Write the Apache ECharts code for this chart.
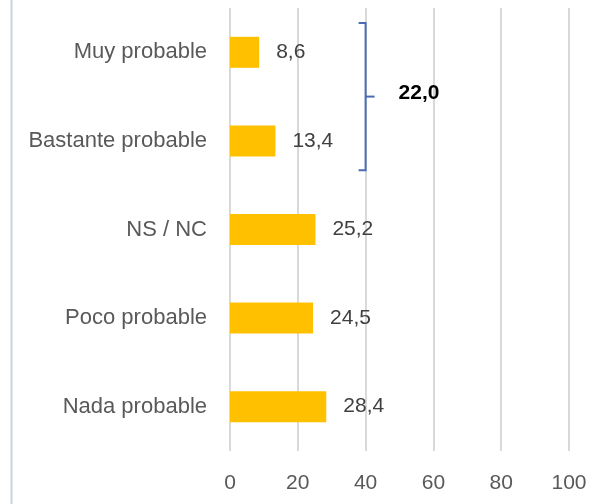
<!DOCTYPE html>
<html>
<head>
<meta charset="utf-8">
<script src="https://cdn.jsdelivr.net/npm/echarts@6/dist/echarts.min.js"></script>
<style>
  html, body { margin: 0; padding: 0; background: #fff; }
  #chart { width: 605px; height: 504px; }
</style>
</head>
<body>
<div id="chart"></div>
<script>
// Survey answers, top to bottom
const categories = ['Muy probable', 'Bastante probable', 'NS / NC', 'Poco probable', 'Nada probable'];
const values = [8.6, 13.4, 25.2, 24.5, 28.4];
const xTicks = [0, 20, 40, 60, 80, 100];
// Answers grouped by the bracket, and where the bracket sits on the value axis
const groupedCategories = ['Muy probable', 'Bastante probable'];
const bracketAt = 40;

const fmt = v => v.toFixed(1).replace('.', ',');
const groupTotal = groupedCategories
  .map(c => values[categories.indexOf(c)])
  .reduce((a, b) => a + b, 0);

const FONT = '"Liberation Sans", Arial, sans-serif';

const chart = echarts.init(document.getElementById('chart'));
chart.setOption({
  animation: false,
  backgroundColor: '#fff',
  grid: { left: 230, right: 36, top: 8, bottom: 53 },
  xAxis: {
    type: 'value',
    min: xTicks[0],
    max: xTicks[xTicks.length - 1],
    interval: xTicks[1] - xTicks[0],
    axisLine: { show: false },
    axisTick: { show: false },
    splitLine: { lineStyle: { color: '#D9D9D9', width: 2 } },
    axisLabel: { color: '#595959', fontFamily: FONT, fontSize: 21, margin: 22 }
  },
  yAxis: {
    type: 'category',
    data: categories,
    inverse: true,
    axisLine: { show: false },
    axisTick: { show: false },
    axisLabel: { color: '#595959', fontFamily: FONT, fontSize: 22, margin: 23 }
  },
  graphic: [{
    type: 'line',
    shape: { x1: 11.5, y1: 0, x2: 11.5, y2: 504 },
    style: { stroke: '#C8D1DE', lineWidth: 2 }
  }],
  series: [
    {
      type: 'bar',
      data: values,
      barWidth: 31,
      itemStyle: { color: '#FFC000' },
      label: {
        show: true,
        position: 'right',
        distance: 17,
        color: '#404040',
        fontFamily: FONT,
        fontSize: 21,
        formatter: p => fmt(p.value)
      }
    },
    {
      // Bracket joining the first two answers, with their combined share
      type: 'custom',
      data: [[bracketAt, groupedCategories[0], groupedCategories[1], groupTotal]],
      encode: { x: 0, y: 1 },
      renderItem: (params, api) => {
        const top = api.coord([api.value(0), groupedCategories[0]]);
        const bot = api.coord([api.value(0), groupedCategories[1]]);
        const band = api.size([0, 1])[1];
        const ext = band * 0.33;
        const x = top[0];
        const y1 = top[1] - ext;
        const y2 = bot[1] + ext;
        const ym = (y1 + y2) / 2;
        const stroke = { stroke: '#4A6BB5', lineWidth: 2, fill: null };
        return {
          type: 'group',
          children: [
            { type: 'polyline', shape: { points: [[x - 7, y1], [x, y1], [x, y2], [x - 7, y2]] }, style: stroke },
            { type: 'line', shape: { x1: x, y1: ym, x2: x + 9, y2: ym }, style: stroke },
            {
              type: 'text',
              x: x + 33, y: ym - 3,
              style: {
                text: fmt(api.value(3)),
                fill: '#000',
                font: 'bold 21px ' + FONT,
                verticalAlign: 'middle',
                align: 'left'
              }
            }
          ]
        };
      }
    }
  ]
});
</script>
</body>
</html>
